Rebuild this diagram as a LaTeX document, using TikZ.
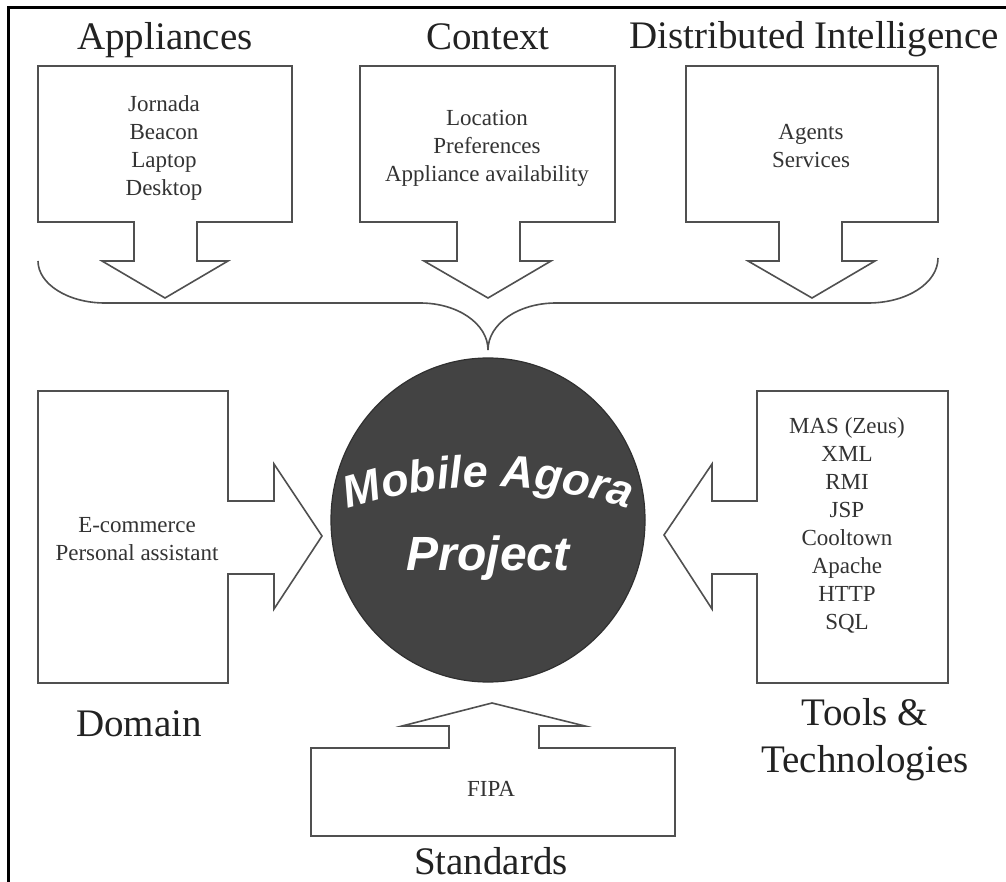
\documentclass[tikz,border=0pt]{standalone}
\usepackage{fontspec}
\setmainfont{Liberation Serif}
\newfontfamily\hubfont{Liberation Sans}
\usetikzlibrary{shapes.geometric,decorations.text}
\definecolor{boxline}{HTML}{505050}
\definecolor{titlecol}{HTML}{222222}
\definecolor{itemcol}{HTML}{333333}
\definecolor{hubfill}{HTML}{434343}
\definecolor{hubline}{HTML}{303030}
\tikzset{
  blockarrow/.style={draw=boxline, line width=1.6pt, fill=white, line join=miter},
  bracepath/.style={draw=boxline, line width=1.6pt},
  title/.style={font=\fontsize{39}{47}\selectfont, text=titlecol, inner sep=0pt, align=center},
  itemtext/.style={font=\fontsize{23}{28}\selectfont, text=itemcol, inner sep=0pt, align=center},
  hubtext/.style={font=\hubfont\bfseries\itshape\fontsize{48}{52}\selectfont, text=white, inner sep=0pt},
}
\begin{document}
\begin{tikzpicture}[x=1pt,y=-1pt]
\useasboundingbox (0,0) rectangle (1006,882);
\clip (0,0) rectangle (1006,882);
\fill[white] (0,0) rectangle (1006,882);
% outer frame (right and bottom edges lie outside the picture)
\draw[black, line width=3pt] (8,8) rectangle (1030,910);

% top block arrows
\path[blockarrow] (38,66) -- (292,66) -- (292,222) -- (197,222) -- (197,261) -- (228,261) -- (165,298) -- (102,261) -- (134,261) -- (134,222) -- (38,222) -- cycle;
\path[blockarrow] (360,66) -- (615,66) -- (615,222) -- (520,222) -- (520,261) -- (551,261) -- (488,298) -- (424,261) -- (457,261) -- (457,222) -- (360,222) -- cycle;
\path[blockarrow] (686,66) -- (938,66) -- (938,222) -- (842,222) -- (842,261) -- (875,261) -- (812,298) -- (748,261) -- (779,261) -- (779,222) -- (686,222) -- cycle;

% brace
\path[bracepath] (38,261) .. controls (38,284) and (68,303) .. (105,303) -- (420,303)
  .. controls (458,303) and (488,324) .. (488,350)
  .. controls (488,324) and (518,303) .. (556,303) -- (868,303)
  .. controls (907,303) and (938,283) .. (938,258);

% side and bottom block arrows
\path[blockarrow] (38,391) -- (228,391) -- (228,501) -- (274,501) -- (274,464) -- (322,536) -- (274,609) -- (274,574) -- (228,574) -- (228,683) -- (38,683) -- cycle;
\path[blockarrow] (948,391) -- (757,391) -- (757,501) -- (712,501) -- (712,464) -- (664,535) -- (712,609) -- (712,574) -- (757,574) -- (757,683) -- (948,683) -- cycle;
\path[blockarrow] (311,836) -- (675,836) -- (675,748) -- (539,748) -- (539,726) -- (585,726) -- (492,703) -- (402,726) -- (449,726) -- (449,748) -- (311,748) -- cycle;

% hub
\node (hub) [ellipse, minimum width=314pt, minimum height=324pt, fill=hubfill, draw=hubline, line width=1.2pt] at (488,520) {};
\path[decorate, decoration={text along path, text align=center, text color=white,
  text={|\hubfont\bfseries\itshape\fontsize{45}{50}\selectfont|Mobile Agora}}]
  (230,568) arc[start angle=235, end angle=305, radius=450];
\node (project) [hubtext, anchor=base] at (488,570) {Project};

% titles
\node (tApp) [title, anchor=base] at (165,50) {Appliances};
\node (tCon) [title, anchor=base] at (488,50) {Context};
\node (tDI)  [title, anchor=base] at (814,49) {Distributed Intelligence};
\node (tDom) [title, anchor=base] at (139,736) {Domain};
\node (tTools) [title] at (865,739.5) {Tools \&\\Technologies};
\node (tStd) [title, anchor=base] at (491,874) {Standards};

% item texts
\node (iApp) [itemtext] at (164,148) {Jornada\\Beacon\\Laptop\\Desktop};
\node (iCon) [itemtext] at (487,148) {Location\\Preferences\\Appliance availability};
\node (iDI)  [itemtext] at (811,146) {Agents\\Services};
\node (iDom) [itemtext] at (137,539) {E-commerce\\Personal assistant};
\node (iTools) [itemtext] at (847,525) {MAS (Zeus)\\XML\\RMI\\JSP\\Cooltown\\Apache\\HTTP\\SQL};
\node (iStd) [itemtext] at (491,789) {FIPA};
\end{tikzpicture}
\end{document}
